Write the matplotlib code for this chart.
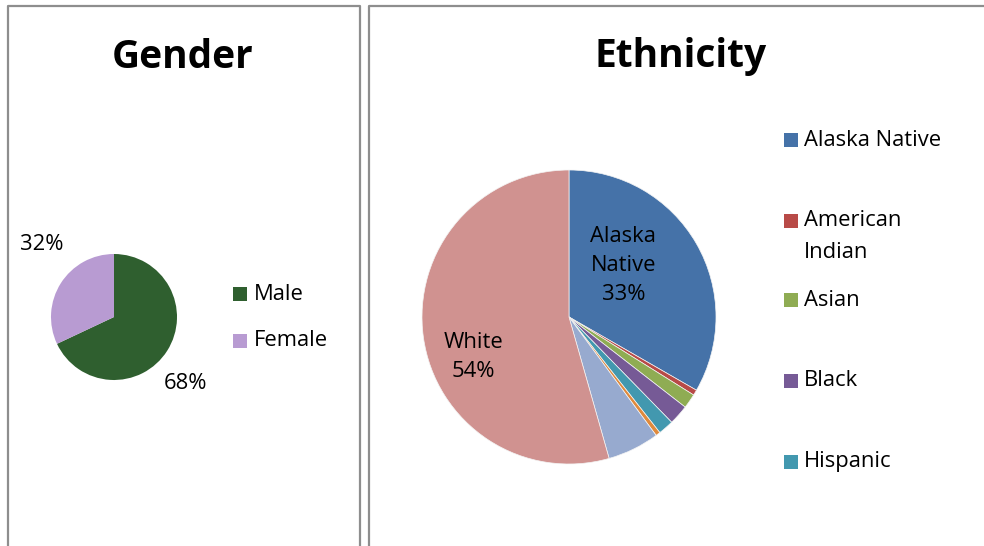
import matplotlib
matplotlib.use("Agg")
import matplotlib.pyplot as plt
from matplotlib.patches import Rectangle
from matplotlib.lines import Line2D

plt.rcParams['font.family'] = ['Open Sans', 'DejaVu Sans']

# Gender data
gender_labels = ['Male', 'Female']
gender_values = [68, 32]
gender_colors = ['#2f5f2f', '#b89bd2']

# Ethnicity data (only the first five show in the clipped legend)
eth_labels = ['Alaska Native', 'American Indian', 'Asian', 'Black', 'Hispanic',
              'Pacific Islander', 'Two or More', 'White']
eth_legend = ['Alaska Native', 'American\nIndian', 'Asian', 'Black', 'Hispanic']
eth_values = [33.3, 0.6, 1.6, 2.2, 1.7, 0.5, 5.7, 54.4]
eth_colors = ['#4572a8', '#b84a47', '#8fac53', '#765a96', '#4298af',
              '#e08a3c', '#97aacf', '#d09290']

W, H = 984, 546
fig = plt.figure(figsize=(W / 100, H / 100), dpi=100)

FS = 15.8      # body text
TFS = 28       # titles


def px_axes(cx, cy, r):
    # axes square in pixel units, centred on (cx, cy) measured from the top
    return fig.add_axes([(cx - r) / W, 1 - (cy + r) / H, 2 * r / W, 2 * r / H])


def fx(x):
    return x / W


def fy(y):
    return 1 - y / H


# panel borders
border = '#8e8e8e'
for xs, ys in [([7.5, 7.5, 359.5, 359.5], [H + 5, 5.5, 5.5, H + 5]),
               ([368.5, 368.5, W + 5], [H + 5, 5.5, 5.5])]:
    fig.add_artist(Line2D([fx(v) for v in xs], [fy(v) for v in ys],
                          color=border, lw=1.6, transform=fig.transFigure))

# titles
fig.text(fx(183), fy(57), 'Gender', ha='center', va='center',
         fontsize=TFS, fontweight='bold')
fig.text(fx(681), fy(57), 'Ethnicity', ha='center', va='center',
         fontsize=TFS, fontweight='bold')

# gender pie
ax1 = px_axes(114, 317, 63)
ax1.pie(gender_values, colors=gender_colors, startangle=90, counterclock=False,
        radius=1, wedgeprops=dict(linewidth=0))
ax1.set_xlim(-1, 1)
ax1.set_ylim(-1, 1)
ax1.axis('off')
ax1.text(-1.14, 1.15, f'{gender_values[1]}%', ha='center', va='center',
         fontsize=FS, clip_on=False)
ax1.text(1.13, -1.05, f'{gender_values[0]}%', ha='center', va='center',
         fontsize=FS, clip_on=False)

# gender legend
for i, (lab, col) in enumerate(zip(gender_labels, gender_colors)):
    y = 294 + i * 47
    fig.add_artist(Rectangle((fx(233), fy(y + 7)), 14 / W, 14 / H,
                             facecolor=col, edgecolor='none',
                             transform=fig.transFigure))
    fig.text(fx(254), fy(y), lab, ha='left', va='center', fontsize=FS)

# ethnicity pie
ax2 = px_axes(569, 317, 147)
ax2.pie(eth_values, colors=eth_colors, startangle=90, counterclock=False,
        radius=1, wedgeprops=dict(linewidth=0.5, edgecolor='#f4f4f4'))
ax2.set_xlim(-1, 1)
ax2.set_ylim(-1, 1)
ax2.axis('off')
ax2.text(0.37, 0.35, f'Alaska\nNative\n{round(eth_values[0])}%', ha='center',
         va='center', fontsize=FS, linespacing=1.5)
ax2.text(-0.65, -0.27, f'White\n{round(eth_values[-1])}%', ha='center',
         va='center', fontsize=FS, linespacing=1.5)

# ethnicity legend
legend_y = [140, 221, 300, 381, 462]
for lab, col, y in zip(eth_legend, eth_colors, legend_y):
    fig.add_artist(Rectangle((fx(784), fy(y + 7)), 14 / W, 14 / H,
                             facecolor=col, edgecolor='none',
                             transform=fig.transFigure))
    for k, line in enumerate(lab.split('\n')):
        fig.text(fx(804), fy(y + 32 * k), line, ha='left', va='center',
                 fontsize=FS)

fig.savefig('out.png', dpi=100, facecolor='white')
